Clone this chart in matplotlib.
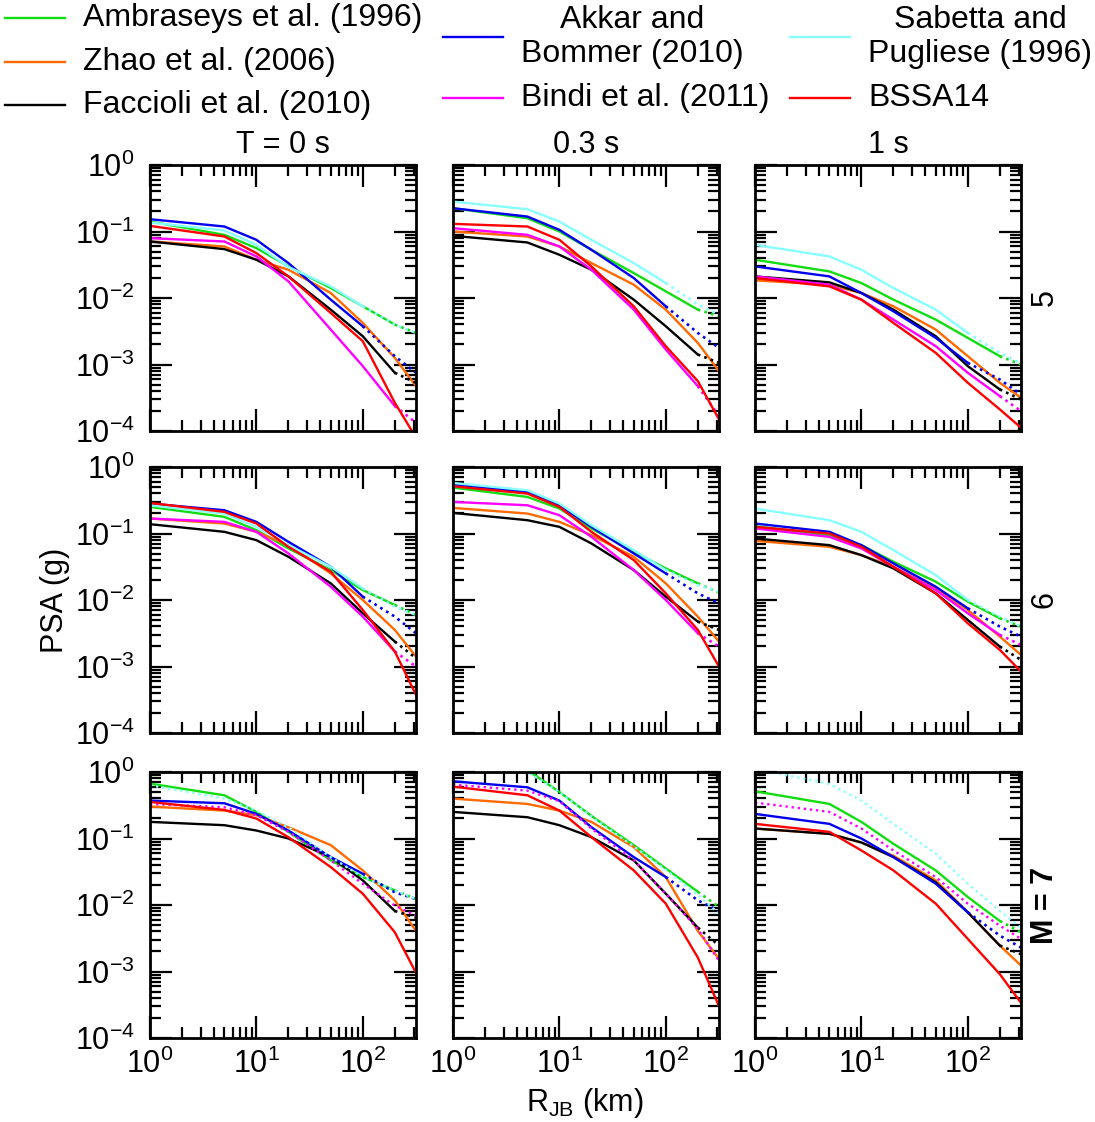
import numpy as np
import matplotlib
matplotlib.use('Agg')
import matplotlib.pyplot as plt
from matplotlib.lines import Line2D
from matplotlib.ticker import LogLocator, NullFormatter

plt.rcParams['font.family'] = ['Liberation Sans', 'DejaVu Sans']
plt.rcParams['mathtext.fontset'] = 'custom'
plt.rcParams['mathtext.rm'] = 'Liberation Sans'
plt.rcParams['mathtext.it'] = 'Liberation Sans:italic'
plt.rcParams['mathtext.bf'] = 'Liberation Sans:bold'

# distances (km) at which the curves were read
rjb = [1, 5, 10, 20, 50, 100, 200, 316]
periods = ['T = 0 s', '0.3 s', '1 s']
magnitudes = ['5', '6', 'M = 7']

# log10 PSA (g); outer list = M 5, 6, 7; inner = T 0, 0.3, 1 s
ambraseys = [
    [[-0.85, -1.05, -1.25, -1.525, -1.85, -2.125, -2.4, -2.525],
     [-0.65, -0.8, -1.0, -1.275, -1.625, -1.9, -2.175, -2.275],
     [-1.425, -1.6, -1.775, -2.025, -2.325, -2.6, -2.875, -3.0]],
    [[-0.6, -0.75, -0.95, -1.225, -1.55, -1.85, -2.075, -2.225],
     [-0.31, -0.45, -0.625, -0.925, -1.275, -1.525, -1.75, -1.89],
     [-0.89, -1.025, -1.175, -1.425, -1.725, -2.025, -2.275, -2.4]],
    [[-0.175, -0.35, -0.6, -0.9, -1.33, -1.58, -1.78, -1.91],
     [0.3, 0.03, -0.3, -0.66, -1.1, -1.45, -1.8, -2.03],
     [-0.29, -0.48, -0.75, -1.08, -1.48, -1.88, -2.24, -2.41]],
]
zhao = [
    [[-1.15, -1.225, -1.425, -1.575, -1.925, -2.375, -2.9, -3.325],
     [-1.0, -1.075, -1.225, -1.475, -1.8, -2.175, -2.675, -3.1],
     [-1.735, -1.8, -1.925, -2.125, -2.475, -2.875, -3.275, -3.5]],
    [[-0.775, -0.85, -0.975, -1.175, -1.6, -2.0, -2.45, -2.85],
     [-0.615, -0.7, -0.825, -1.025, -1.35, -1.75, -2.25, -2.625],
     [-1.11, -1.2, -1.325, -1.5, -1.825, -2.15, -2.55, -2.825]],
    [[-0.52, -0.58, -0.65, -0.83, -1.1, -1.48, -1.93, -2.39],
     [-0.4, -0.48, -0.58, -0.75, -1.13, -1.58, -2.39, -2.81],
     [-0.85, -0.93, -1.06, -1.26, -1.63, -2.11, -2.61, -2.91]],
]
faccioli = [
    [[-1.15, -1.265, -1.425, -1.675, -2.175, -2.575, -3.125, -3.275],
     [-1.065, -1.165, -1.35, -1.575, -2.025, -2.425, -2.85, -2.975],
     [-1.675, -1.765, -1.925, -2.175, -2.575, -3.025, -3.375, -3.525]],
    [[-0.86, -0.975, -1.1, -1.35, -1.75, -2.2, -2.625, -2.875],
     [-0.69, -0.8, -0.9, -1.15, -1.55, -1.95, -2.325, -2.45],
     [-1.075, -1.175, -1.325, -1.525, -1.9, -2.3, -2.7, -2.9]],
    [[-0.75, -0.8, -0.88, -1.0, -1.28, -1.63, -2.09, -2.19],
     [-0.6, -0.68, -0.8, -0.98, -1.33, -1.83, -2.34, -2.61],
     [-0.85, -0.93, -1.06, -1.28, -1.66, -2.11, -2.61, -2.74]],
]
akkar = [
    [[-0.815, -0.925, -1.125, -1.475, -2.025, -2.425, -2.875, -3.125],
     [-0.65, -0.775, -0.975, -1.275, -1.7, -2.125, -2.525, -2.75],
     [-1.525, -1.675, -1.925, -2.2, -2.6, -2.975, -3.225, -3.45]],
    [[-0.55, -0.65, -0.825, -1.125, -1.5, -1.95, -2.25, -2.5],
     [-0.26, -0.375, -0.575, -0.9, -1.3, -1.6, -1.9, -2.05],
     [-0.85, -0.975, -1.175, -1.45, -1.8, -2.125, -2.4, -2.55]],
    [[-0.43, -0.47, -0.63, -0.88, -1.28, -1.53, -1.81, -1.91],
     [-0.14, -0.23, -0.43, -0.83, -1.28, -1.58, -1.93, -2.09],
     [-0.63, -0.78, -1.0, -1.28, -1.68, -2.11, -2.46, -2.64]],
]
bindi = [
    [[-1.1, -1.15, -1.375, -1.75, -2.475, -3.025, -3.625, -3.875],
     [-0.95, -1.05, -1.225, -1.575, -2.175, -2.775, -3.325, -3.775],
     [-1.675, -1.8, -2.025, -2.325, -2.725, -3.125, -3.475, -3.7]],
    [[-0.775, -0.825, -0.975, -1.3, -1.8, -2.25, -2.775, -3.0],
     [-0.525, -0.575, -0.725, -1.05, -1.55, -2.0, -2.5, -2.7],
     [-0.925, -1.05, -1.225, -1.5, -1.85, -2.2, -2.525, -2.675]],
    [[-0.48, -0.53, -0.65, -0.9, -1.33, -1.68, -2.01, -2.16],
     [-0.19, -0.28, -0.44, -0.85, -1.33, -1.83, -2.36, -2.84],
     [-0.46, -0.6, -0.85, -1.18, -1.58, -1.98, -2.31, -2.51]],
]
sabetta = [
    [[-0.865, -0.985, -1.2, -1.535, -1.825, -2.125, -2.4, -2.525],
     [-0.55, -0.665, -0.85, -1.125, -1.475, -1.775, -2.1, -2.25],
     [-1.2, -1.375, -1.575, -1.85, -2.175, -2.525, -2.825, -2.985]],
    [[-0.575, -0.7, -0.9, -1.175, -1.5, -1.825, -2.1, -2.225],
     [-0.24, -0.35, -0.55, -0.875, -1.25, -1.55, -1.775, -1.875],
     [-0.625, -0.8, -0.975, -1.25, -1.625, -2.0, -2.25, -2.4]],
    [[-0.2, -0.4, -0.58, -0.83, -1.28, -1.58, -1.78, -1.91],
     [0.3, 0.0, -0.3, -0.67, -1.12, -1.47, -1.85, -2.13],
     [0.05, -0.18, -0.43, -0.78, -1.23, -1.68, -2.09, -2.34]],
]
bssa14 = [
    [[-0.915, -1.075, -1.325, -1.675, -2.225, -2.65, -3.575, -4.1],
     [-0.885, -0.925, -1.125, -1.525, -2.125, -2.725, -3.25, -3.825],
     [-1.7, -1.825, -2.025, -2.375, -2.825, -3.275, -3.675, -3.95]],
    [[-0.54, -0.675, -0.85, -1.2, -1.575, -2.15, -2.775, -3.425],
     [-0.29, -0.4, -0.6, -0.975, -1.4, -1.9, -2.45, -3.0],
     [-0.9, -1.0, -1.2, -1.5, -1.9, -2.35, -2.75, -3.075]],
    [[-0.45, -0.57, -0.7, -0.98, -1.43, -1.83, -2.41, -3.02],
     [-0.22, -0.35, -0.58, -0.98, -1.48, -1.98, -2.79, -3.52],
     [-0.78, -0.9, -1.18, -1.48, -1.98, -2.51, -3.04, -3.47]],
]

# name, data, colour, max distance of validity, magnitude rows that are valid
models = [
    ('Ambraseys et al. (1996)', ambraseys, '#11dd11', 200, [0, 1, 2]),
    ('Zhao et al. (2006)', zhao, '#ff6a00', 400, [0, 1, 2]),
    ('Faccioli et al. (2010)', faccioli, 'black', 200, [0, 1, 2]),
    ('Akkar and\nBommer (2010)', akkar, '#0000ee', 100, [0, 1, 2]),
    ('Bindi et al. (2011)', bindi, '#ff00ff', 200, [0, 1]),
    ('Sabetta and\nPugliese (1996)', sabetta, '#88ffff', 100, [0, 1]),
    ('BSSA14', bssa14, '#ff0000', 400, [0, 1, 2]),
]

W, H = 1095, 1122
fig = plt.figure(figsize=(W / 100, H / 100), dpi=100)

lefts = [150, 453, 755]
tops = [165, 467, 772]
size = 266
dots = (0, (1, 1.6))
fs = 22

x = np.array(rjb, dtype=float)
for i in range(3):
    for j in range(3):
        ax = fig.add_axes([lefts[j] / W, 1 - (tops[i] + size) / H, size / W, size / H])
        for name, data, color, rmax, okrows in models:
            y = 10 ** np.array(data[i][j])
            if i not in okrows:
                ax.plot(x, y, color=color, lw=1.7, ls=dots)
                continue
            ax.plot(x[x <= rmax], y[x <= rmax], color=color, lw=1.7)
            out = x >= rmax
            if out.sum() > 1:
                ax.plot(x[out], y[out], color=color, lw=1.9, ls=dots)
        ax.set_xscale('log')
        ax.set_yscale('log')
        ax.set_xlim(1, 10 ** 2.5)
        ax.set_ylim(1e-4, 1)
        ax.xaxis.set_minor_locator(LogLocator(subs=np.arange(2, 10), numticks=20))
        ax.yaxis.set_minor_locator(LogLocator(subs=np.arange(2, 10), numticks=20))
        ax.xaxis.set_minor_formatter(NullFormatter())
        ax.yaxis.set_minor_formatter(NullFormatter())
        ax.tick_params(which='both', direction='in', top=True, right=True, width=1.6)
        ax.tick_params(which='major', length=16, labelsize=fs)
        ax.tick_params(which='minor', length=8)
        ax.tick_params(axis='y', which='major', pad=11)
        ax.tick_params(axis='x', which='major', pad=8)
        ax.tick_params(labelleft=(j == 0), labelbottom=(i == 2))
        for sp in ax.spines.values():
            sp.set_linewidth(2)

for j, t in enumerate(periods):
    fig.text((lefts[j] + size / 2) / W, 1 - 145 / H, t, ha='center', va='center', fontsize=fs)
for i, m in enumerate(magnitudes):
    fig.text(1045 / W, 1 - (tops[i] + size / 2) / H, m, ha='center', va='center',
             rotation=90, fontsize=fs, fontweight='bold' if m.startswith('M') else 'normal')
fig.text(55 / W, 1 - 600 / H, 'PSA (g)', ha='center', va='center', rotation=90, fontsize=fs)
fig.text(585 / W, 1 - 1103 / H, r'R$_{\mathrm{JB}}$ (km)', ha='center', va='center', fontsize=fs)

# legend drawn by hand, three columns like the original
legend_pos = [(5, 18), (5, 62), (5, 105), (443, 37), (443, 98), (790, 37), (790, 98)]
for (name, data, color, rmax, okrows), (lx, ly) in zip(models, legend_pos):
    fy = 1 - ly / H
    fig.add_artist(Line2D([lx / W, (lx + 60) / W], [fy, fy], color=color, lw=1.7,
                          transform=fig.transFigure))
    fig.text((lx + 78) / W, fy, name, ha='left', va='center', fontsize=fs + 1,
             multialignment='center', linespacing=1.2)

plt.savefig('out.png', dpi=100)
